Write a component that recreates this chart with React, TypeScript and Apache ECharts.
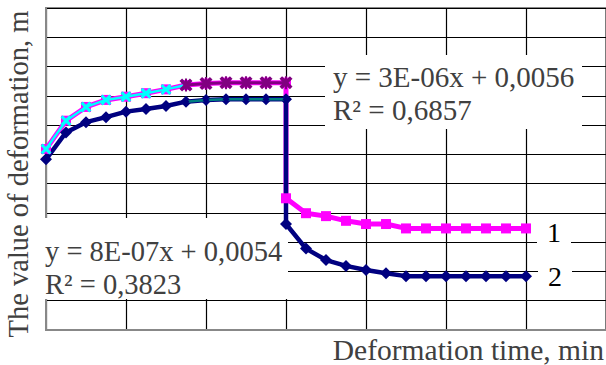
import React, { useEffect, useRef } from "react";
import * as echarts from "echarts";

// Deformation time (x) – rising part and relaxation part
const timeRise = [0, 1, 2, 3, 4, 5, 6, 7, 8, 9, 10, 11, 12];
const timeFall = [13, 14, 15, 16, 17, 18, 19, 20, 21, 22, 23, 24];
const timeDrop = 12;

// Curve 1 (magenta)
const def1Rise = [6.18, 7.15, 7.62, 7.86, 7.97, 8.09, 8.22, 8.37, 8.42, 8.45, 8.45, 8.45, 8.45];
const def1Drop = 4.5;
const def1Fall = [3.99, 3.89, 3.73, 3.62, 3.62, 3.47, 3.47, 3.47, 3.47, 3.47, 3.47, 3.47];

// Curve 2 (navy)
const def2Rise = [5.83, 6.75, 7.1, 7.27, 7.46, 7.55, 7.65, 7.8, 7.86, 7.88, 7.88, 7.88, 7.88];
const def2Drop = 3.62;
const def2Fall = [2.78, 2.39, 2.19, 2.05, 1.94, 1.84, 1.84, 1.84, 1.84, 1.84, 1.84, 1.84];

// Trend-line annotations
const trend1Text = ["y = 3E-06x + 0,0056", "R² = 0,6857"];
const trend2Text = ["y = 8E-07x + 0,0054", "R² = 0,3823"];
const seriesNames = ["1", "2"];
const xTitle = "Deformation time, min";
const yTitle = "The value of deformation, m";

const FONT = "'Liberation Serif', 'Times New Roman', serif";

const X_MARK = "path://M0,2 L2,0 L5,3 L8,0 L10,2 L7,5 L10,8 L8,10 L5,7 L2,10 L0,8 L3,5 Z";
const STAR_MARK =
  "path://M0,2 L2,0 L5,3 L8,0 L10,2 L7,5 L10,8 L8,10 L5,7 L2,10 L0,8 L3,5 Z M4.2,0 L5.8,0 L5.8,10 L4.2,10 Z";

function buildFull(rise: number[], drop: number, fall: number[], name: string, labelOffsetY: number) {
  const pts: any[] = rise.map((v, i) => [timeRise[i], v]);
  pts.push([timeDrop, drop]);
  fall.forEach((v, i) => {
    const isLast = i === fall.length - 1;
    if (isLast) {
      pts.push({
        value: [timeFall[i], v],
        label: {
          show: true,
          position: "right",
          distance: 6,
          offset: [0, labelOffsetY],
          formatter: name,
          fontFamily: FONT,
          fontSize: 28,
          color: "#000",
          backgroundColor: "#fff",
          padding: [1, 10, 1, 10],
          lineHeight: 28,
        },
      });
    } else {
      pts.push([timeFall[i], v]);
    }
  });
  return pts;
}

export default function App() {
  const ref = useRef<HTMLDivElement>(null);
  useEffect(() => {
    if (!ref.current) return;
    const chart = echarts.init(ref.current, undefined, { renderer: "svg" });
    const riseSlice = (arr: number[], a: number, b: number) =>
      arr.slice(a, b + 1).map((v, i) => [timeRise[a + i], v]);

    chart.setOption({
      animation: false,
      backgroundColor: "#fff",
      grid: {
        left: 46,
        top: 8,
        width: 565,
        height: 322,
        show: true,
        borderColor: "#888",
        borderWidth: 2,
        containLabel: false,
      },
      xAxis: {
        type: "value",
        min: 0,
        max: 28,
        interval: 4,
        axisLabel: { show: false },
        axisTick: { show: false },
        axisLine: { show: true, lineStyle: { color: "#888", width: 2 } },
        splitLine: { show: true, lineStyle: { color: "#000", width: 1.2 } },
      },
      yAxis: {
        type: "value",
        min: 0,
        max: 11,
        interval: 1,
        axisLabel: { show: false },
        axisTick: { show: false },
        axisLine: { show: true, lineStyle: { color: "#888", width: 2 } },
        splitLine: { show: true, lineStyle: { color: "#000", width: 1.2 } },
      },
      graphic: [
        { type: "rect", z: 50, shape: { x: 325, y: 55, width: 257, height: 74 }, style: { fill: "#fff" } },
        { type: "rect", z: 50, shape: { x: 40, y: 218, width: 248, height: 81 }, style: { fill: "#fff" } },
        {
          type: "text",
          z: 51,
          x: 333,
          y: 60,
          style: { text: trend1Text.join("\n"), font: `29px ${FONT}`, fill: "#404040", lineHeight: 33, verticalAlign: "top" },
        },
        {
          type: "text",
          z: 51,
          x: 45,
          y: 235,
          style: { text: trend2Text.join("\n"), font: `28.5px ${FONT}`, fill: "#404040", lineHeight: 33, verticalAlign: "top" },
        },
        {
          type: "text",
          z: 51,
          x: 604,
          y: 350,
          style: { text: xTitle, font: `29.5px ${FONT}`, fill: "#404040", align: "right", verticalAlign: "middle" },
        },
        {
          type: "text",
          z: 51,
          x: 18,
          y: 174,
          rotation: Math.PI / 2,
          style: { text: yTitle, font: `28.5px ${FONT}`, fill: "#404040", align: "center", verticalAlign: "middle" },
        },
      ],
      series: [
        {
          type: "line",
          name: seriesNames[0],
          z: 60,
          data: buildFull(def1Rise, def1Drop, def1Fall, seriesNames[0], 4),
          lineStyle: { color: "#ff00ff", width: 5 },
          itemStyle: { color: "#ff00ff" },
          symbol: "rect",
          symbolSize: 10,
          showAllSymbol: true,
        },
        {
          type: "line",
          z: 61,
          data: riseSlice(def1Rise, 0, 7),
          lineStyle: { color: "#00ffff", width: 2.5 },
          itemStyle: { color: "#00ffff" },
          symbol: X_MARK,
          symbolSize: 11,
          showAllSymbol: true,
        },
        {
          type: "line",
          z: 62,
          data: riseSlice(def1Rise, 7, 12),
          lineStyle: { color: "#800080", width: 3 },
          itemStyle: { color: "#800080" },
          symbol: STAR_MARK,
          symbolSize: 13,
          showAllSymbol: true,
        },
        {
          type: "line",
          name: seriesNames[1],
          z: 60,
          data: buildFull(def2Rise, def2Drop, def2Fall, seriesNames[1], 0),
          lineStyle: { color: "#000080", width: 4.5 },
          itemStyle: { color: "#000080" },
          symbol: "diamond",
          symbolSize: 12,
          showAllSymbol: true,
        },
        {
          type: "line",
          z: 61,
          data: riseSlice(def2Rise, 7, 12),
          lineStyle: { color: "#008080", width: 2.5 },
          itemStyle: { color: "#000080" },
          symbol: "diamond",
          symbolSize: 7,
          showAllSymbol: true,
        },
      ],
    });
    return () => chart.dispose();
  }, []);
  return (
    <div
      ref={ref}
      style={{ position: "absolute", left: 0, top: 0, width: 606, height: 365, overflow: "hidden" }}
    />
  );
}
